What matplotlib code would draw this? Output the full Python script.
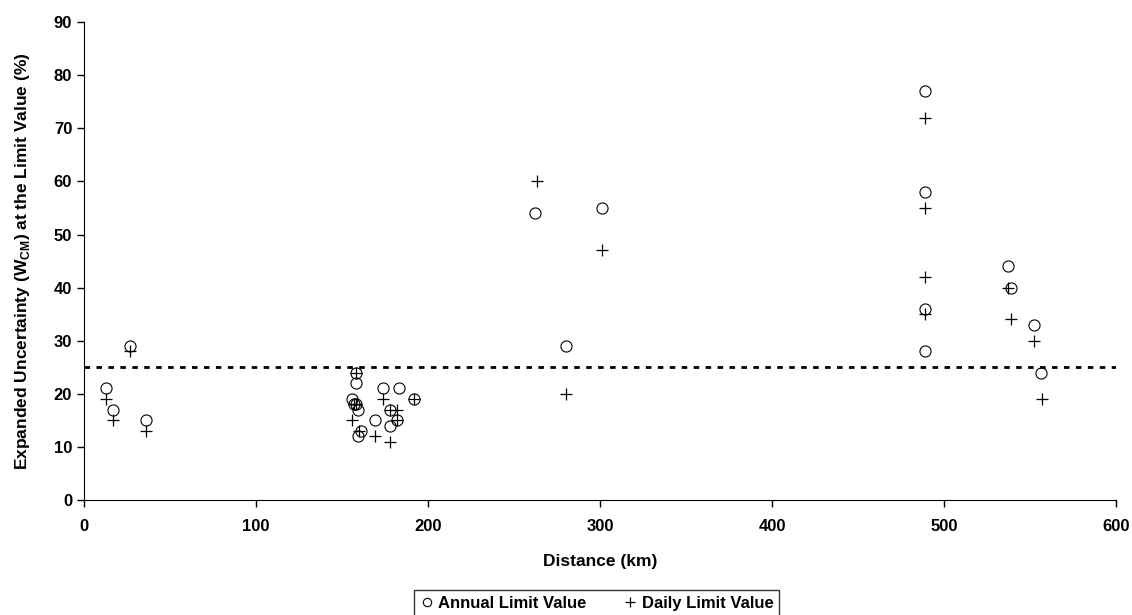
import matplotlib.pyplot as plt

plt.rcParams['font.family'] = ['Liberation Sans', 'DejaVu Sans']
plt.rcParams['mathtext.fontset'] = 'custom'
plt.rcParams['mathtext.rm'] = 'Liberation Sans'
plt.rcParams['mathtext.bf'] = 'Liberation Sans:bold'

# distance (km) and expanded uncertainty (%) for each station
annual_dist = [13, 17, 27, 36,
               158, 158, 156, 157, 158, 159, 161, 159, 169, 174, 183, 178, 178, 182, 192,
               262, 280, 301,
               489, 489, 489, 489, 537, 539, 552, 556]
annual_unc = [21, 17, 29, 15,
              24, 22, 19, 18, 18, 17, 13, 12, 15, 21, 21, 17, 14, 15, 19,
              54, 29, 55,
              77, 58, 36, 28, 44, 40, 33, 24]

daily_dist = [13, 17, 27, 36,
              158, 157, 158, 156, 160, 169, 178, 174, 182, 178, 182, 192,
              263, 280, 301,
              489, 489, 489, 489, 537, 539, 552, 557]
daily_unc = [19, 15, 28, 13,
             24, 18, 18, 15, 13, 12, 11, 19, 17, 17, 15, 19,
             60, 20, 47,
             72, 55, 42, 35, 40, 34, 30, 19]

limit_line = 25

fig = plt.figure(figsize=(11.32, 6.15), dpi=100)
ax = fig.add_axes([0.0742, 0.187, 0.912, 0.777])

ax.plot(annual_dist, annual_unc, linestyle='none', marker='o', markersize=8,
        markerfacecolor='none', markeredgecolor='black', markeredgewidth=0.8,
        label='Annual Limit Value')
ax.plot(daily_dist, daily_unc, linestyle='none', marker='+', markersize=9,
        color='black', markeredgewidth=0.9, label='Daily Limit Value')
ax.axhline(limit_line, color='black', linewidth=2, dashes=(2, 2.3))

ax.set_xlim(0, 600)
ax.set_ylim(0, 90)
ax.set_xticks(range(0, 601, 100))
ax.set_yticks(range(0, 91, 10))
ax.spines['top'].set_visible(False)
ax.spines['right'].set_visible(False)
ax.tick_params(direction='out', length=5, width=1, labelsize=12)
ax.tick_params(axis='x', pad=9)
for lbl in ax.get_xticklabels() + ax.get_yticklabels():
    lbl.set_fontweight('bold')

ax.set_xlabel('Distance (km)', fontsize=12.5, fontweight='bold', labelpad=14)
ax.set_ylabel(r'Expanded Uncertainty (W$_{\mathbf{CM}}$) at the Limit Value (%)',
              fontsize=12.5, fontweight='bold', labelpad=16)

leg = fig.legend(loc='upper center', bbox_to_anchor=(0.527, 0.04), ncol=2,
                 frameon=True, fancybox=False, edgecolor='black',
                 prop={'weight': 'bold', 'size': 12}, handlelength=0.8,
                 handletextpad=0.3, columnspacing=2.2, borderpad=0.35,
                 borderaxespad=0, markerscale=0.75)
leg.get_frame().set_linewidth(1)

fig.savefig('out.png', dpi=100)
